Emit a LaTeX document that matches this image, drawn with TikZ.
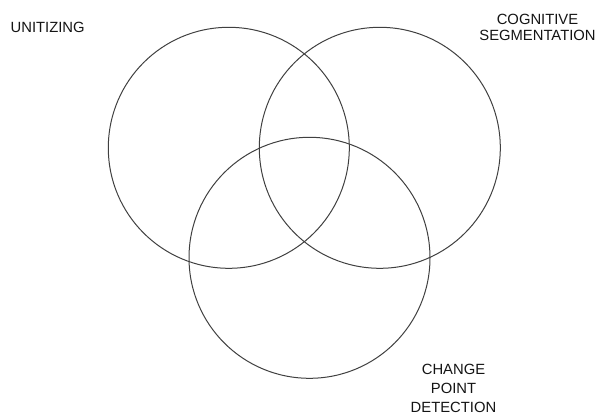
\documentclass[tikz,border=0pt]{standalone}
\usepackage{fontspec}
\setmainfont{Liberation Sans}
\begin{document}
\begin{tikzpicture}[x=1pt,y=-1pt,
  venn/.style={draw=black!75,line width=1pt},
  lbl/.style={inner sep=0pt,align=center,text=black!92}]
\useasboundingbox (0,0) rectangle (597,414);
\path[clip] (0,0) rectangle (597,414);
\node[venn,circle,minimum size=241pt,inner sep=0pt] (c1) at (228.8,147.8) {};
\node[venn,circle,minimum size=241pt,inner sep=0pt] (c2) at (379.8,147.8) {};
\node[venn,circle,minimum size=241pt,inner sep=0pt] (c3) at (309.5,257.8) {};
\node[lbl,anchor=north west,font=\fontsize{14.8}{17}\selectfont] (t1) at (10.5,21.7) {UNITIZING};
\node[lbl,anchor=north,font=\fontsize{14.8}{16}\selectfont] (t2) at (537.5,13.5) {COGNITIVE\\SEGMENTATION};
\node[lbl,anchor=north,font=\fontsize{14.8}{19}\selectfont] (t3) at (453.5,363.5) {CHANGE\\POINT\\DETECTION};
\end{tikzpicture}
\end{document}
